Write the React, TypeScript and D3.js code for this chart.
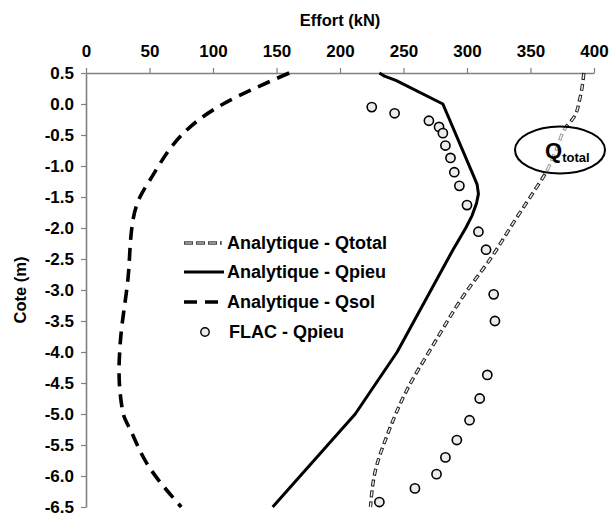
import React, { useEffect, useRef } from "react";
import * as d3 from "d3";

const W = 613;
const H = 515;

const xTicks = [0, 50, 100, 150, 200, 250, 300, 350, 400];
const yTicks = [0.5, 0.0, -0.5, -1.0, -1.5, -2.0, -2.5, -3.0, -3.5, -4.0, -4.5, -5.0, -5.5, -6.0, -6.5];

const qtotalDepth = [0.5, 0.1, -0.22, -0.37, -0.75, -1.11, -1.4, -1.9, -2.45, -3.1, -3.9, -4.6, -5.35, -5.9, -6.5];
const qtotalValue = [392, 389, 384, 378, 370, 362, 353, 337, 320, 297, 273, 253, 237, 228, 224];

const qpieuDepth = [0.5, 0.45, 0.38, 0.0, -1.15, -1.3, -1.45, -1.6, -1.8, -2.0, -2.35, -4.0, -5.0, -6.5];
const qpieuValue = [231, 235, 244, 281, 305, 308, 309, 307.5, 304, 299, 289, 245, 212, 147];

const qsolDepth = [0.5, 0.0, -1.27, -1.5, -1.87, -2.83, -3.85, -4.3, -4.97, -5.3, -5.8, -6.5];
const qsolValue = [160, 108, 49, 42.5, 37, 33, 27, 26, 29, 36, 48, 75];

const flacDepth = [-0.05, -0.15, -0.27, -0.37, -0.47, -0.67, -0.87, -1.1, -1.32, -1.63, -2.06, -2.35, -3.07, -3.5, -4.37, -4.75, -5.1, -5.42, -5.7, -5.97, -6.2, -6.42];
const flacValue = [225, 243, 270, 278, 281, 283, 287, 290, 294, 300, 309, 315, 321, 322, 316, 310, 302, 292, 283, 276, 259, 231];

const legendLabels = ["Analytique - Qtotal", "Analytique - Qpieu", "Analytique - Qsol", "FLAC - Qpieu"];

const FONT = "'Liberation Sans', Arial, sans-serif";

export default function App() {
  const ref = useRef<SVGSVGElement>(null);

  useEffect(() => {
    const svg = d3.select(ref.current);
    svg.selectAll("*").remove();

    const x = d3.scaleLinear().domain([0, 400]).range([86, 594]);
    const y = d3.scaleLinear().domain([0.5, -6.5]).range([73, 507]);

    const axisColor = "#808080";
    const fmt1 = d3.format(".1f");

    const gx = svg.append("g").attr("transform", `translate(0,${y(0.5)})`)
      .call(d3.axisTop(x).tickValues(xTicks).tickSize(5).tickSizeOuter(0).tickFormat(d3.format("d")));
    const gy = svg.append("g").attr("transform", `translate(${x(0)},0)`)
      .call(d3.axisLeft(y).tickValues(yTicks).tickSize(5).tickSizeOuter(0)
        .tickFormat((d) => fmt1(d as number).replace("\u2212", "-")));

    [gx, gy].forEach((g) => {
      g.select(".domain").attr("stroke", axisColor).attr("stroke-width", 1.6);
      g.selectAll(".tick line").attr("stroke", axisColor).attr("stroke-width", 1.2);
      g.selectAll(".tick text").attr("fill", "#000").attr("font-family", FONT)
        .attr("font-weight", "bold").attr("font-size", 17);
    });
    gx.selectAll(".tick text").attr("dy", "-0.45em");
    gy.selectAll(".tick text").attr("x", -12).attr("dy", "0.34em");

    svg.append("text").attr("x", x(200)).attr("y", 26).attr("text-anchor", "middle")
      .attr("font-family", FONT).attr("font-weight", "bold").attr("font-size", 16.5).text("Effort (kN)");
    svg.append("text").attr("transform", `translate(26,${y(-3)}) rotate(-90)`).attr("text-anchor", "middle")
      .attr("font-family", FONT).attr("font-weight", "bold").attr("font-size", 16.5).text("Cote (m)");

    const smooth = d3.line<[number, number]>()
      .x((d) => x(d[0])).y((d) => y(d[1]))
      .curve(d3.curveMonotoneY);
    const straight = d3.line<[number, number]>()
      .x((d) => x(d[0])).y((d) => y(d[1]))
      .curve(d3.curveLinear);

    const zip = (v: number[], dd: number[]) => v.map((val, i) => [val, dd[i]] as [number, number]);

    const totalPts = zip(qtotalValue, qtotalDepth);
    svg.append("path").attr("d", smooth(totalPts)).attr("fill", "none")
      .attr("stroke", "#222").attr("stroke-width", 3.4).attr("stroke-dasharray", "7 4");
    svg.append("path").attr("d", smooth(totalPts)).attr("fill", "none")
      .attr("stroke", "#f2f2f2").attr("stroke-width", 1.4).attr("stroke-dasharray", "5 6")
      .attr("stroke-dashoffset", -1);

    svg.append("path").attr("d", straight(zip(qpieuValue, qpieuDepth))).attr("fill", "none")
      .attr("stroke", "#000").attr("stroke-width", 3).attr("stroke-linejoin", "round");

    svg.append("path").attr("d", smooth(zip(qsolValue, qsolDepth))).attr("fill", "none")
      .attr("stroke", "#000").attr("stroke-width", 3.6).attr("stroke-dasharray", "13 8");

    svg.append("g").selectAll("circle").data(zip(flacValue, flacDepth)).join("circle")
      .attr("cx", (d) => x(d[0])).attr("cy", (d) => y(d[1])).attr("r", 4.6)
      .attr("fill", "#ececec").attr("stroke", "#000").attr("stroke-width", 1.6);

    svg.append("ellipse").attr("cx", 560).attr("cy", 150).attr("rx", 45).attr("ry", 23.5)
      .attr("fill", "#fff").attr("fill-opacity", 0.55).attr("stroke", "#000").attr("stroke-width", 2);
    const qt = svg.append("text").attr("x", 545).attr("y", 158).attr("font-family", FONT).attr("font-weight", "bold");
    qt.append("tspan").attr("font-size", 22).text("Q");
    qt.append("tspan").attr("font-size", 13).attr("dy", 4).text("total");

    const lg = svg.append("g");
    const rowY = [243, 272, 302, 332];
    lg.append("line").attr("x1", 184).attr("x2", 222).attr("y1", rowY[0]).attr("y2", rowY[0])
      .attr("stroke", "#444").attr("stroke-width", 3.4).attr("stroke-dasharray", "9 3");
    lg.append("line").attr("x1", 184).attr("x2", 222).attr("y1", rowY[0]).attr("y2", rowY[0])
      .attr("stroke", "#aaa").attr("stroke-width", 1.4).attr("stroke-dasharray", "7 5").attr("stroke-dashoffset", -1);
    lg.append("line").attr("x1", 184).attr("x2", 224).attr("y1", rowY[1]).attr("y2", rowY[1])
      .attr("stroke", "#000").attr("stroke-width", 3);
    lg.append("line").attr("x1", 184).attr("x2", 224).attr("y1", rowY[2]).attr("y2", rowY[2])
      .attr("stroke", "#000").attr("stroke-width", 3.6).attr("stroke-dasharray", "13 8");
    lg.append("circle").attr("cx", 205).attr("cy", rowY[3]).attr("r", 4.2)
      .attr("fill", "#ececec").attr("stroke", "#000").attr("stroke-width", 1.4);
    legendLabels.forEach((t, i) => {
      lg.append("text").attr("x", i === 3 ? 229 : 227).attr("y", rowY[i]).attr("dy", "0.36em")
        .attr("font-family", FONT).attr("font-weight", "bold").attr("font-size", 18).text(t);
    });
  }, []);

  return (
    <svg ref={ref} width={W} height={H} style={{ position: "absolute", left: 0, top: 0, background: "#fff" }} />
  );
}
